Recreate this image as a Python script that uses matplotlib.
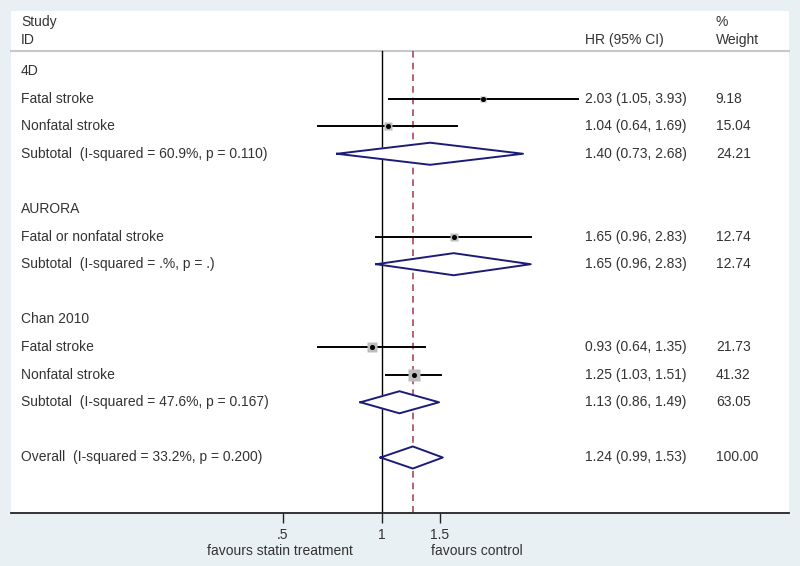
import numpy as np
import matplotlib
matplotlib.use("Agg")
from matplotlib import pyplot as plt
import matplotlib.transforms as mtrans

plt.rcParams['font.family'] = ['Liberation Sans', 'DejaVu Sans']

# data
groups = ["4D", "AURORA", "Chan 2010"]
study_group = [0, 0, 1, 2, 2]
study_labels = ["Fatal stroke", "Nonfatal stroke", "Fatal or nonfatal stroke",
                "Fatal stroke", "Nonfatal stroke"]
hr = [2.03, 1.04, 1.65, 0.93, 1.25]
lo = [1.05, 0.64, 0.96, 0.64, 1.03]
hi = [3.93, 1.69, 2.83, 1.35, 1.51]
weight = [9.18, 15.04, 12.74, 21.73, 41.32]

sub_labels = ["Subtotal  (I-squared = 60.9%, p = 0.110)",
              "Subtotal  (I-squared = .%, p = .)",
              "Subtotal  (I-squared = 47.6%, p = 0.167)"]
sub_hr = [1.40, 1.65, 1.13]
sub_lo = [0.73, 0.96, 0.86]
sub_hi = [2.68, 2.83, 1.49]
sub_w = [24.21, 12.74, 63.05]

overall_label = "Overall  (I-squared = 33.2%, p = 0.200)"
overall = (1.24, 0.99, 1.53, 100.00)

xticks = [0.5, 1, 1.5]
xticklabels = [".5", "1", "1.5"]

txt_col = '#333333'
navy = '#1c1c78'
fs = 10

fig = plt.figure(figsize=(8, 5.66), dpi=100)
fig.patch.set_facecolor('#e9f0f3')
ax = fig.add_axes([11/800, 1 - 513/566, 778/800, 502/566])
ax.set_facecolor('white')
ax.set_xscale('log')
ax.set_xlim(np.exp(-371/143), np.exp(407/143))
ax.set_ylim(16.01, -2.17)

tr = mtrans.blended_transform_factory(ax.transAxes, ax.transData)
x_lab, x_hr, x_w = 0.0129, 0.738, 0.906


def diamond(y, c, l, h):
    xs = [l, c, h, c, l]
    ys = [y, y - 0.4, y, y + 0.4, y]
    ax.fill(xs, ys, color='white', zorder=3)
    ax.plot(xs, ys, color=navy, lw=1.4, zorder=4)


def stats(y, c, l, h, w):
    ax.text(x_hr, y, "%.2f (%.2f, %.2f)" % (c, l, h), transform=tr,
            va='center', ha='left', fontsize=fs, color=txt_col)
    ax.text(x_w, y, "%.2f" % w, transform=tr,
            va='center', ha='left', fontsize=fs, color=txt_col)


# header
ax.text(x_lab, -1.78, "Study", transform=tr, va='center', fontsize=fs, color=txt_col)
ax.text(x_lab, -1.12, "ID", transform=tr, va='center', fontsize=fs, color=txt_col)
ax.text(x_hr, -1.12, "HR (95% CI)", transform=tr, va='center', fontsize=fs, color=txt_col)
ax.text(x_w, -1.78, "%", transform=tr, va='center', fontsize=fs, color=txt_col)
ax.text(x_w, -1.12, "Weight", transform=tr, va='center', fontsize=fs, color=txt_col)
ax.plot([0, 1], [-0.72, -0.72], transform=tr, color='#c8c8c8', lw=1.5, clip_on=False)

# reference lines
ax.plot([1, 1], [-0.72, 16.01], color='black', lw=1.0, zorder=2)
ax.plot([overall[0]] * 2, [-0.72, 16.01], color='#a8485a', lw=1.2,
        ls=(0, (4, 3)), zorder=2)

row = 0
for g, gname in enumerate(groups):
    ax.text(x_lab, row, gname, transform=tr, va='center', fontsize=fs, color=txt_col)
    row += 1
    for i in range(len(hr)):
        if study_group[i] != g:
            continue
        ax.plot([lo[i], hi[i]], [row, row], color='black', lw=1.4, zorder=3)
        ax.plot(hr[i], row, marker='s', ms=1.45 * np.sqrt(weight[i]),
                color='#bdbdbd', mec='none', zorder=3.5)
        ax.plot(hr[i], row, marker='o', ms=2.6, color='black', zorder=4)
        ax.text(x_lab, row, study_labels[i], transform=tr, va='center',
                fontsize=fs, color=txt_col)
        stats(row, hr[i], lo[i], hi[i], weight[i])
        row += 1
    diamond(row, sub_hr[g], sub_lo[g], sub_hi[g])
    ax.text(x_lab, row, sub_labels[g], transform=tr, va='center', fontsize=fs, color=txt_col)
    stats(row, sub_hr[g], sub_lo[g], sub_hi[g], sub_w[g])
    row += 2

diamond(row, overall[0], overall[1], overall[2])
ax.text(x_lab, row, overall_label, transform=tr, va='center', fontsize=fs, color=txt_col)
stats(row, *overall)

# axis
for s in ['top', 'left', 'right']:
    ax.spines[s].set_visible(False)
ax.spines['bottom'].set_color('#222222')
ax.spines['bottom'].set_linewidth(1.3)
ax.set_yticks([])
ax.set_xticks(xticks)
ax.set_xticklabels(xticklabels)
ax.xaxis.set_minor_locator(matplotlib.ticker.NullLocator())
ax.tick_params(axis='x', direction='out', length=7, width=1.0, pad=4,
               labelsize=fs, labelcolor=txt_col, color='#222222')

fig.text(280/800, 1 - 551/566, "favours statin treatment", ha='center', va='center',
         fontsize=fs, color=txt_col)
fig.text(477/800, 1 - 551/566, "favours control", ha='center', va='center',
         fontsize=fs, color=txt_col)

plt.savefig('out.png', dpi=100, facecolor=fig.get_facecolor())
